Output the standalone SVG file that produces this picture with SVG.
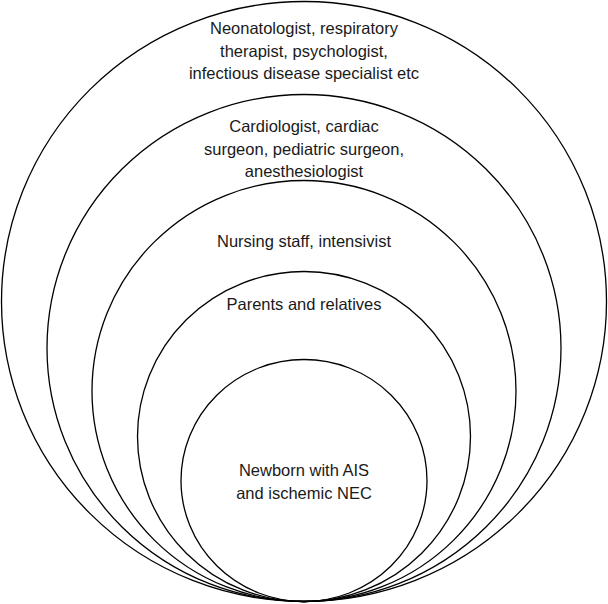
<svg xmlns="http://www.w3.org/2000/svg" width="608" height="604" viewBox="0 0 608 604">
<style>
.ring{fill:none;stroke:#000;stroke-width:1.3}
.lbl{font-family:"Liberation Sans",Arial,sans-serif;font-size:16.5px;fill:#1a1a1a;text-anchor:middle}
</style>
<rect width="608" height="604" fill="#fff"/>
<g id="ring1">
<ellipse class="ring" cx="304" cy="301.5" rx="302.5" ry="300"/>
<text class="lbl" x="304" y="34">Neonatologist, respiratory</text>
<text class="lbl" x="304" y="56.5">therapist, psychologist,</text>
<text class="lbl" x="304" y="79">infectious disease specialist etc</text>
</g>
<g id="ring2">
<ellipse class="ring" cx="304" cy="348" rx="257" ry="253.5"/>
<text class="lbl" x="304" y="132">Cardiologist, cardiac</text>
<text class="lbl" x="304" y="154.5">surgeon, pediatric surgeon,</text>
<text class="lbl" x="304" y="177">anesthesiologist</text>
</g>
<g id="ring3">
<ellipse class="ring" cx="304" cy="391" rx="212" ry="210.5"/>
<text class="lbl" x="304" y="247">Nursing staff, intensivist</text>
</g>
<g id="ring4">
<ellipse class="ring" cx="304" cy="436.5" rx="166.5" ry="165"/>
<text class="lbl" x="304" y="310">Parents and relatives</text>
</g>
<g id="ring5">
<ellipse class="ring" cx="304" cy="480.5" rx="123" ry="121"/>
<text class="lbl" x="304" y="476">Newborn with AIS</text>
<text class="lbl" x="304" y="498.5">and ischemic NEC</text>
</g>
<g id="connectors"></g>
</svg>
